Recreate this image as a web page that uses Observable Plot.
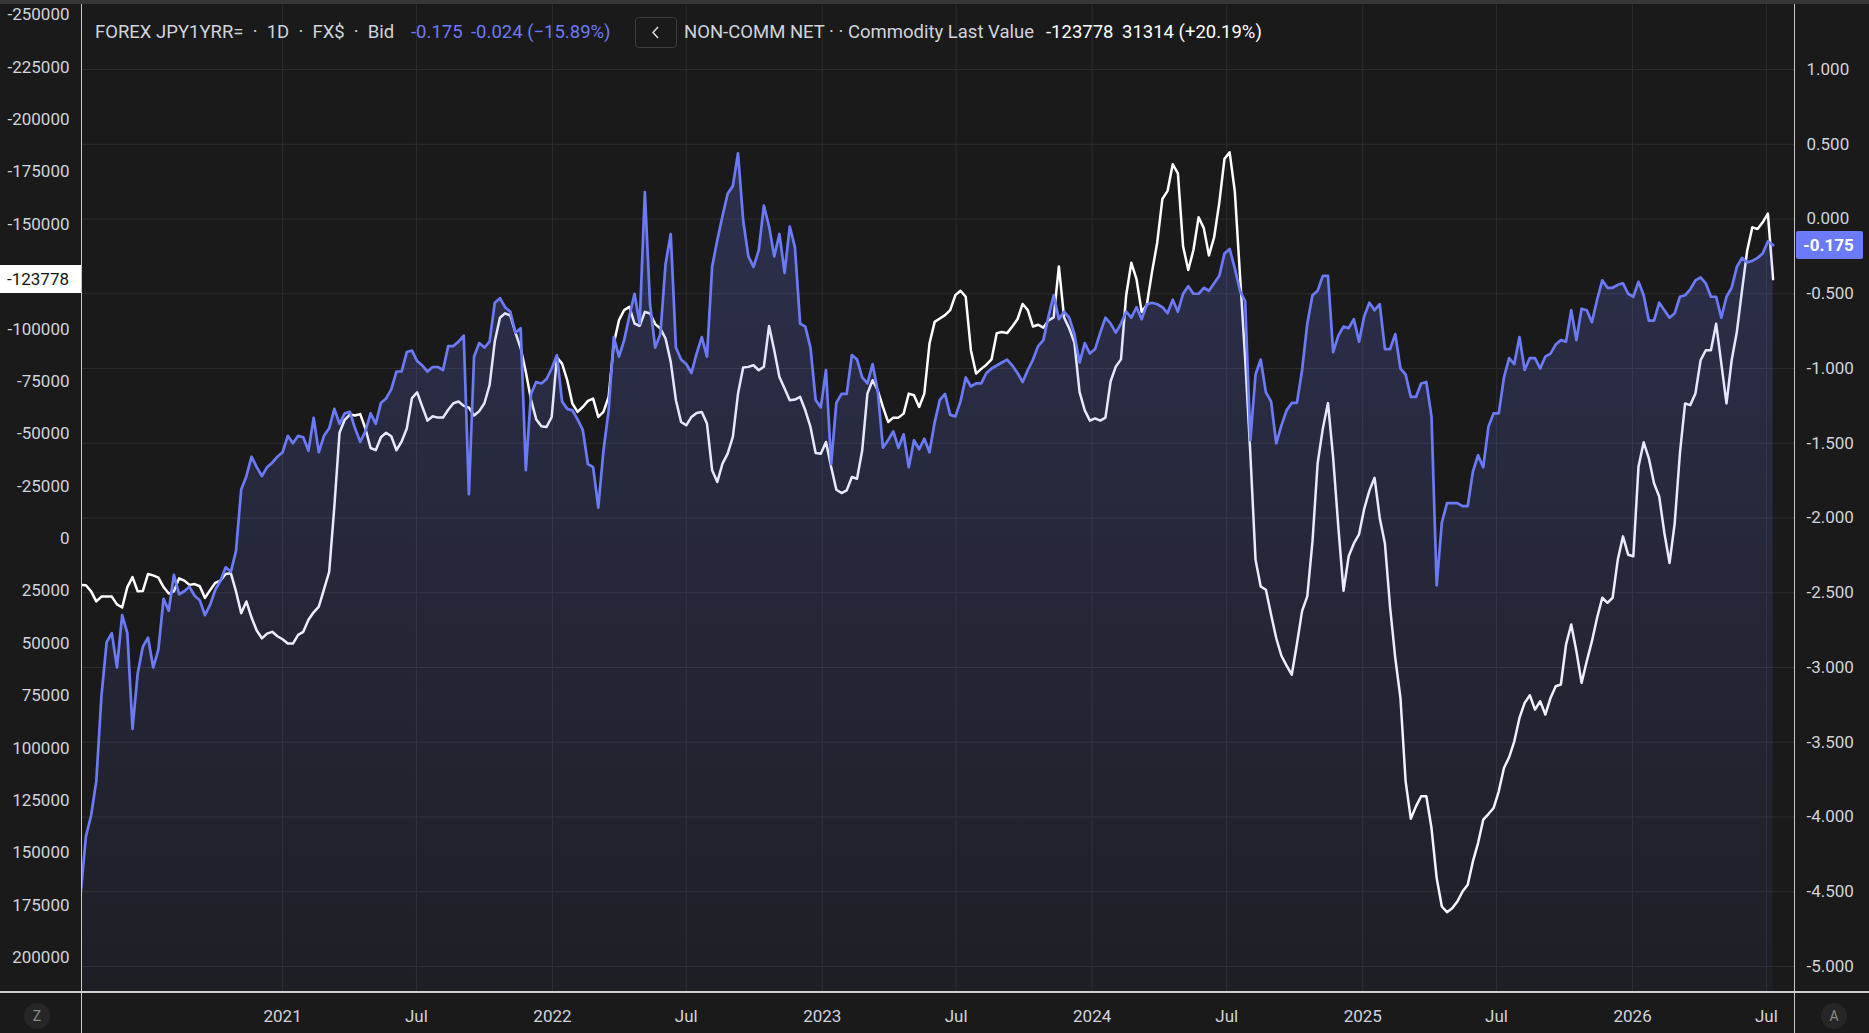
<!DOCTYPE html>
<html><head><meta charset="utf-8">
<script src="https://cdn.jsdelivr.net/npm/d3@7"></script>
<script src="https://cdn.jsdelivr.net/npm/@observablehq/plot@0.6"></script>
<style>
html,body{margin:0;padding:0;background:#1a1a1a;}
body{width:1869px;height:1033px;overflow:hidden;position:relative;font-family:Roboto,"Liberation Sans",sans-serif;}
.abs{position:absolute;}
#topband{left:0;top:0;width:1869px;height:4px;background:#363636;}
#chart{left:0;top:4px;}
.leg{top:22px;height:20px;line-height:20px;font-size:18.5px;white-space:pre;color:#d1d4dc;}
.vline{top:4px;width:1px;height:1029px;background:#c8c8c8;}
#hline{left:0;top:991px;width:1869px;height:2px;background:#d0d0d0;}
.circ{width:26px;height:26px;border-radius:13px;background:#262626;color:#8a8a8a;font-size:14px;line-height:26px;text-align:center;top:1003px;}
.lastlab{height:28px;line-height:28px;font-size:17px;white-space:nowrap;}
</style></head><body>
<div id="topband" class="abs"></div>
<div id="chart" class="abs"></div>
<div class="abs vline" style="left:81px"></div>
<div class="abs vline" style="left:1794px"></div>
<div id="hline" class="abs"></div>
<div class="abs circ" style="left:24px">Z</div>
<div class="abs circ" style="left:1821px">A</div>
<div id="legend"></div>
<script>
// ---- data ----
const weekStart = "2020-04-03"; // first weekly observation (one value per week)
// FOREX JPY1YRR= (right axis, %)
const blueValues = [
 -4.51,-4.13,-3.99,-3.76,-3.19,-2.83,-2.77,-3.00,-2.65,-2.77,-3.41,-3.04,-2.86,-2.80,-3.00,-2.88,-2.54,-2.62,-2.38,-2.51,
 -2.49,-2.46,-2.52,-2.55,-2.65,-2.58,-2.48,-2.42,-2.33,-2.36,-2.22,-1.81,-1.72,-1.59,-1.66,-1.72,-1.66,-1.63,-1.59,-1.56,
 -1.45,-1.50,-1.45,-1.46,-1.55,-1.33,-1.56,-1.45,-1.40,-1.27,-1.37,-1.30,-1.29,-1.40,-1.49,-1.42,-1.30,-1.37,-1.23,-1.20,
 -1.14,-1.02,-1.02,-0.89,-0.88,-0.95,-0.98,-1.02,-0.99,-0.99,-1.01,-0.85,-0.85,-0.82,-0.78,-1.84,-0.92,-0.83,-0.86,-0.82,
 -0.56,-0.53,-0.59,-0.62,-0.76,-0.73,-1.68,-1.17,-1.09,-1.10,-1.07,-1.00,-0.91,-1.22,-1.27,-1.28,-1.34,-1.41,-1.64,-1.66,
 -1.93,-1.55,-1.28,-0.79,-0.92,-0.81,-0.65,-0.50,-0.70,0.18,-0.57,-0.86,-0.77,-0.30,-0.10,-0.86,-0.94,-0.97,-1.03,-0.90,
 -0.79,-0.92,-0.32,-0.14,0.02,0.17,0.22,0.44,-0.01,-0.25,-0.32,-0.21,0.09,-0.05,-0.25,-0.10,-0.36,-0.05,-0.19,-0.70,
 -0.72,-0.86,-1.21,-1.26,-1.01,-1.64,-1.23,-1.17,-1.17,-0.91,-0.94,-1.06,-1.10,-0.97,-1.15,-1.53,-1.48,-1.42,-1.53,-1.44,
 -1.66,-1.48,-1.54,-1.47,-1.56,-1.36,-1.21,-1.17,-1.31,-1.32,-1.22,-1.06,-1.12,-1.10,-1.10,-1.03,-1.00,-0.98,-0.96,-0.94,
 -0.98,-1.03,-1.09,-1.01,-0.94,-0.85,-0.81,-0.65,-0.51,-0.67,-0.62,-0.66,-0.77,-0.96,-0.83,-0.90,-0.87,-0.76,-0.66,-0.70,
 -0.76,-0.70,-0.62,-0.66,-0.59,-0.67,-0.57,-0.56,-0.57,-0.59,-0.63,-0.54,-0.62,-0.50,-0.45,-0.50,-0.50,-0.46,-0.48,-0.43,
 -0.38,-0.23,-0.20,-0.33,-0.48,-0.55,-1.48,-1.04,-0.94,-1.16,-1.22,-1.50,-1.38,-1.28,-1.23,-1.23,-1.01,-0.70,-0.51,-0.48,
 -0.38,-0.38,-0.89,-0.78,-0.72,-0.73,-0.67,-0.82,-0.65,-0.56,-0.61,-0.57,-0.87,-0.87,-0.77,-1.00,-1.04,-1.19,-1.19,-1.10,
 -1.09,-1.32,-2.45,-2.03,-1.90,-1.90,-1.90,-1.92,-1.92,-1.69,-1.58,-1.66,-1.39,-1.30,-1.30,-1.06,-0.93,-0.97,-0.79,-1.01,
 -0.93,-0.93,-1.00,-0.92,-0.90,-0.84,-0.81,-0.82,-0.61,-0.81,-0.60,-0.61,-0.69,-0.54,-0.41,-0.46,-0.46,-0.44,-0.43,-0.50,
 -0.52,-0.42,-0.51,-0.68,-0.68,-0.56,-0.61,-0.66,-0.63,-0.52,-0.51,-0.47,-0.41,-0.39,-0.43,-0.52,-0.52,-0.66,-0.52,-0.46,
 -0.32,-0.26,-0.29,-0.28,-0.26,-0.23,-0.15,-0.175
];
// NON-COMM NET, Commodity Last Value (left axis, contracts)
const netValues = [
 22100,22300,25200,30000,27700,27700,27700,31400,32900,23150,18400,25200,25000,16900,17550,18600,23150,26250,25200,19000,
 20050,22100,21700,22750,28300,24600,21100,20050,16900,16500,25200,35600,30000,37700,43900,47600,45350,44500,46600,48040,
 50100,50100,45950,44500,38700,35200,32500,24200,15900,-15220,-50480,-56700,-59190,-58770,-59400,-52550,-43220,-42180,-48400,-50480,
 -48820,-42180,-46330,-52550,-67070,-69770,-62920,-56280,-58360,-57740,-57740,-61470,-64580,-65410,-63340,-62510,-58770,-60850,-64580,-73290,
 -94030,-105440,-107510,-106470,-98180,-90920,-79510,-66400,-57000,-53590,-53270,-58050,-86500,-83500,-75570,-64420,-60440,-62830,-65700,-66810,
 -58050,-60440,-67610,-93100,-104250,-109030,-110620,-102660,-101540,-108230,-107430,-102340,-100270,-95490,-84340,-66020,-55660,-54070,-58050,-59960,
 -60440,-54870,-32560,-26990,-35750,-40530,-48490,-69200,-81630,-81950,-82740,-80350,-82000,-101500,-89910,-77170,-71590,-66020,-66330,-67610,
 -61240,-53270,-40850,-40530,-46100,-34160,-23320,-21730,-23000,-29380,-28580,-42120,-69200,-75570,-70790,-62830,-55660,-57730,-57730,-59640,
 -69200,-68410,-62830,-69200,-93100,-103450,-105050,-106640,-109030,-116200,-118270,-115400,-89910,-78760,-81000,-83000,-85540,-98070,-98590,-98070,
 -101200,-104680,-111990,-109030,-101200,-102070,-100680,-104160,-105550,-129910,-105550,-100330,-93370,-69880,-61180,-56310,-57350,-56310,-57700,-75100,
 -82060,-85540,-115990,-131650,-123820,-108160,-111640,-127300,-141240,-162100,-165930,-178630,-174280,-139480,-128170,-137740,-153400,-148180,-135130,-143830,
 -160360,-181240,-184370,-165580,-125560,-85540,-40300,10160,22860,24430,36260,47570,55920,60620,64970,50180,34520,27560,1460,-35950,
 -52480,-64660,-38560,-5500,24950,8420,2330,-2020,-14200,-22900,-28990,-9850,2330,32780,57000,76040,115860,133700,127810,122980,
 122980,138160,162060,175600,178300,176400,173200,168430,165250,154100,145330,134180,131480,128610,120640,109490,104390,96750,85600,78430,
 74760,81610,77630,84000,76040,70460,69660,50550,40990,53740,68870,58510,48960,37800,28250,30640,28250,10050,-1060,7690,
 8460,-34365,-45950,-38330,-26440,-20090,-2640,11630,-7400,-40710,-64500,-63700,-69260,-85120,-89880,-89880,-102560,-83530,-64500,-85120,
 -98600,-118420,-137450,-148560,-147770,-150940,-155092,-123778
];
const rightTicks = [1, 0.5, 0, -0.5, -1, -1.5, -2, -2.5, -3, -3.5, -4, -4.5, -5];
const leftTicks = [-250000,-225000,-200000,-175000,-150000,-125000,-100000,-75000,-50000,-25000,0,25000,50000,75000,100000,125000,150000,175000,200000];
const xTickDates = ["2021-01-01","2021-07-01","2022-01-01","2022-07-01","2023-01-01","2023-07-01","2024-01-01","2024-07-01","2025-01-01","2025-07-01","2026-01-01","2026-07-01"];
const xDomain = ["2020-04-04","2026-08-08"];
const yDomain = [-5.174, 1.435];
// left axis (contracts) expressed on right axis (%): R = leftZero + leftPerUnit * L
const leftZero = -2.1376, leftPerUnit = -1.4015e-5;
const legendItems = [
  {text:"FOREX JPY1YRR=  ·  1D  ·  FX$  ·  Bid", left:95, color:"#d1d4dc"},
  {text:"-0.175", left:411, color:"#6b7bf7"},
  {text:"-0.024 (−15.89%)", left:471, color:"#6b7bf7"},
  {text:"NON-COMM NET · · Commodity Last Value", left:684, color:"#d1d4dc"},
  {text:"-123778", left:1046, color:"#ffffff"},
  {text:"31314 (+20.19%)", left:1122, color:"#ffffff"}
];

// ---- build ----
const BLUE = "#6b7bf7";
const t0 = new Date(weekStart + "T00:00:00Z").getTime();
const weekDate = i => new Date(t0 + i * 7 * 864e5);
const blue = blueValues.map((v, i) => ({date: weekDate(i), v}));
const net = netValues.map((v, i) => ({date: weekDate(i), v}));
const toR = L => leftZero + leftPerUnit * L;
const fromR = R => (R - leftZero) / leftPerUnit;
const xTicks = xTickDates.map(s => new Date(s + "T00:00:00Z"));
const monthFmt = d3.utcFormat("%b");

const gradient = () => {
  const defs = d3.create("svg:defs");
  const g = defs.append("linearGradient").attr("id", "blueFill")
    .attr("x1", 0).attr("y1", 0).attr("x2", 0).attr("y2", 1);
  g.append("stop").attr("offset", "0%").attr("stop-color", BLUE).attr("stop-opacity", 0.23);
  g.append("stop").attr("offset", "100%").attr("stop-color", BLUE).attr("stop-opacity", 0.05);
  return defs.node();
};

const chart = Plot.plot({
  width: 1869, height: 1029,
  marginTop: 0, marginBottom: 41, marginLeft: 81, marginRight: 75,
  style: {background: "transparent", color: "#d1d4dc", fontFamily: "Roboto, 'Liberation Sans', sans-serif", fontSize: "17px"},
  x: {type: "utc", domain: xDomain.map(s => new Date(s + "T00:00:00Z"))},
  y: {domain: yDomain},
  marks: [
    gradient,
    Plot.gridY({ticks: rightTicks, stroke: "#2e2e2e", strokeOpacity: 1}),
    Plot.gridX({ticks: xTicks, stroke: "#2b2b2b", strokeOpacity: 1}),
    Plot.axisY({anchor: "right", ticks: rightTicks, tickSize: 0, tickPadding: 12, label: null,
      tickFormat: d => d.toFixed(3)}),
    Plot.axisY({anchor: "left", ticks: leftTicks.map(toR), tickSize: 0, tickPadding: 12, label: null,
      tickFormat: d => String(Math.round(fromR(d) / 1000) * 1000 || 0)}),
    Plot.axisX({anchor: "bottom", ticks: xTicks, tickSize: 0, tickPadding: 17, label: null,
      tickFormat: d => d.getUTCMonth() === 0 ? String(d.getUTCFullYear()) : monthFmt(d)}),
    Plot.lineY(net, {x: "date", y: d => toR(d.v), stroke: "#ffffff", strokeWidth: 2.5, clip: true}),
    Plot.areaY(blue, {x: "date", y1: yDomain[0], y2: "v", fill: "url(#blueFill)", clip: true}),
    Plot.lineY(blue, {x: "date", y: "v", stroke: BLUE, strokeWidth: 2.7, clip: true})
  ]
});
document.getElementById("chart").appendChild(chart);

// legend
const leg = document.getElementById("legend");
for (const it of legendItems) {
  const s = document.createElement("div");
  s.className = "abs leg";
  s.style.left = it.left + "px";
  s.style.color = it.color;
  s.textContent = it.text;
  leg.appendChild(s);
}
const btn = document.createElement("div");
btn.className = "abs";
btn.style.cssText = "left:635px;top:17px;width:40px;height:29px;border:1px solid #3c3c3c;border-radius:4px;";
btn.innerHTML = '<svg width="40" height="29"><polyline points="22,9 17,14.5 22,20" fill="none" stroke="#d1d4dc" stroke-width="1.6"/></svg>';
leg.appendChild(btn);

// last-value labels via the chart's own y scale
const ys = chart.scale("y");
const lastBlue = blueValues[blueValues.length - 1];
const lastNet = netValues[netValues.length - 1];
const yb = ys.apply(lastBlue) + 4;
const yn = ys.apply(toR(lastNet)) + 4;
const rb = document.createElement("div");
rb.className = "abs lastlab";
rb.style.cssText += `left:1796px;top:${yb - 14}px;width:60px;padding-left:7px;background:${BLUE};color:#fff;font-weight:bold;border-radius:2px;`;
rb.textContent = lastBlue.toFixed(3);
document.body.appendChild(rb);
const ln = document.createElement("div");
ln.className = "abs lastlab";
ln.style.cssText += `left:0px;top:${yn - 14}px;width:69px;padding-right:12px;text-align:right;background:#ffffff;color:#131313;`;
ln.textContent = String(lastNet);
document.body.appendChild(ln);
</script>
</body></html>
